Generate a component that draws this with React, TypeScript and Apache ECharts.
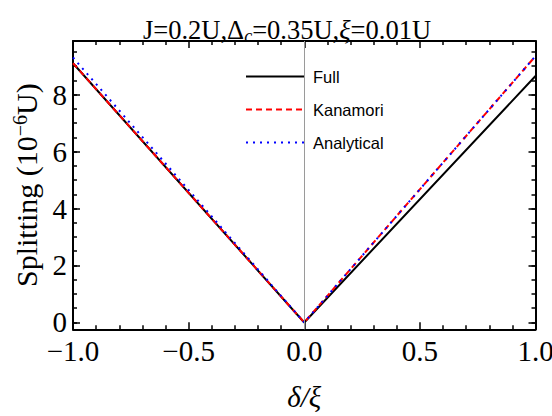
import React, { useEffect, useRef } from "react";
import * as echarts from "echarts";

const xValues = [-1, 0, 1];
const fullValues = [9.1, 0, 8.65];
const kanamoriValues = [9.1, 0, 9.35];
const analyticalValues = [9.3, 0, 9.35];

const yMajorTicks = [0, 2, 4, 6, 8];
const yMinorTicks = [0, 0.5, 1, 1.5, 2, 2.5, 3, 3.5, 4, 4.5, 5, 5.5, 6, 6.5, 7, 7.5, 8, 8.5, 9, 9.5];
const seriesNames = ["Full", "Kanamori", "Analytical"];

const SERIF = "Liberation Serif";
const SANS = "Liberation Sans";

const pairs = (ys: number[]) => xValues.map((x, i) => [x, ys[i]]);

export default function App() {
  const ref = useRef<HTMLDivElement>(null);
  useEffect(() => {
    if (!ref.current) return;
    const chart = echarts.init(ref.current, undefined, { renderer: "svg" });
    const yMin = -0.24;
    const yMax = 9.88;
    const frameLine = { show: true, onZero: false, lineStyle: { color: "#000", width: 2 } };
    const xCommon = {
      type: "value",
      min: -1,
      max: 1,
      interval: 0.5,
      splitLine: { show: false },
      axisLine: frameLine,
      axisTick: { show: true, inside: true, length: 7, lineStyle: { color: "#000", width: 1.5 } },
      minorTick: { show: true, splitNumber: 5, length: 4, lineStyle: { color: "#000", width: 1.5 } },
    };
    const yMajor = (position: string, withLabels: boolean) => ({
      type: "value",
      position,
      min: yMin,
      max: yMax,
      splitLine: { show: false },
      axisLine: frameLine,
      axisTick: {
        show: true,
        inside: true,
        length: 7,
        customValues: yMajorTicks,
        lineStyle: { color: "#000", width: 1.5 },
      },
      axisLabel: withLabels
        ? {
            show: true,
            customValues: yMajorTicks,
            margin: 6,
            color: "#000",
            fontFamily: SERIF,
            fontSize: 29,
            lineHeight: 26,
          }
        : { show: false },
    });
    const yMinor = (position: string) => ({
      type: "value",
      position,
      min: yMin,
      max: yMax,
      splitLine: { show: false },
      axisLine: { show: false, onZero: false },
      axisLabel: { show: false },
      axisTick: {
        show: true,
        inside: true,
        length: 4,
        customValues: yMinorTicks,
        lineStyle: { color: "#000", width: 1.5 },
      },
    });

    const option: any = {
      animation: false,
      title: {
        text: "J=0.2U,Δ{sub|c}=0.35U,{it|ξ}=0.01U",
        left: 282,
        top: 10,
        textAlign: "center",
        textStyle: {
          fontFamily: SERIF,
          fontSize: 26.5,
          fontWeight: "normal",
          color: "#000",
          rich: {
            sub: { fontFamily: SERIF, fontSize: 18, fontStyle: "italic", color: "#000", padding: [12, 0, 0, 0] },
            it: { fontFamily: SERIF, fontSize: 26.5, fontStyle: "italic", color: "#000" },
          },
        },
      },
      legend: {
        orient: "vertical",
        left: 245,
        top: 68,
        padding: 0,
        itemWidth: 58,
        itemHeight: 16,
        itemGap: 16,
        data: seriesNames,
        itemStyle: { opacity: 0 },
        textStyle: { fontFamily: SANS, fontSize: 16.5, color: "#000", padding: [0, 0, 0, 4] },
      },
      grid: { left: 73, right: 16.5, top: 41, bottom: 86.7, containLabel: false, outerBoundsMode: "none" },
      xAxis: [
        {
          ...xCommon,
          position: "bottom",
          name: "δ/ξ",
          nameLocation: "middle",
          nameGap: 53,
          nameTextStyle: { fontFamily: SERIF, fontSize: 29, fontStyle: "italic", color: "#000" },
          axisLabel: {
            show: true,
            margin: 9,
            color: "#000",
            fontFamily: SERIF,
            fontSize: 29,
            lineHeight: 26,
            formatter: (v: number) => v.toFixed(1).replace("-", "\u2212"),
          },
        },
        { ...xCommon, position: "top", axisLabel: { show: false } },
      ],
      yAxis: [
        {
          ...yMajor("left", true),
          name: "Splitting (10{sup|\u22126}U)",
          nameLocation: "middle",
          nameGap: 31,
          nameTextStyle: {
            fontFamily: SERIF,
            fontSize: 30,
            color: "#000",
            rich: { sup: { fontFamily: SERIF, fontSize: 20, color: "#000", padding: [0, 0, 12, 0] } },
          },
        },
        yMinor("left"),
        yMajor("right", false),
        yMinor("right"),
      ],
      series: [
        {
          name: "Full",
          type: "line",
          xAxisIndex: 0,
          yAxisIndex: 0,
          data: pairs(fullValues),
          symbol: "none",
          lineStyle: { color: "#000", width: 2, type: "solid" },
          itemStyle: { color: "#000" },
          markLine: {
            silent: true,
            symbol: ["none", "none"],
            label: { show: false },
            lineStyle: { color: "#9a9a9a", width: 1, type: "solid" },
            data: [{ xAxis: 0 }],
          },
        },
        {
          name: "Kanamori",
          type: "line",
          xAxisIndex: 0,
          yAxisIndex: 0,
          data: pairs(kanamoriValues),
          symbol: "none",
          lineStyle: { color: "#ff0000", width: 2, type: [6, 4] },
          itemStyle: { color: "#ff0000" },
        },
        {
          name: "Analytical",
          type: "line",
          xAxisIndex: 0,
          yAxisIndex: 0,
          data: pairs(analyticalValues),
          symbol: "none",
          lineStyle: { color: "#0000ff", width: 2, type: [2, 5] },
          itemStyle: { color: "#0000ff" },
        },
      ],
    };
    chart.setOption(option);
    return () => chart.dispose();
  }, []);
  return (
    <div
      ref={ref}
      style={{ position: "fixed", left: 0, top: 0, width: 552, height: 416, background: "#fff" }}
    />
  );
}
